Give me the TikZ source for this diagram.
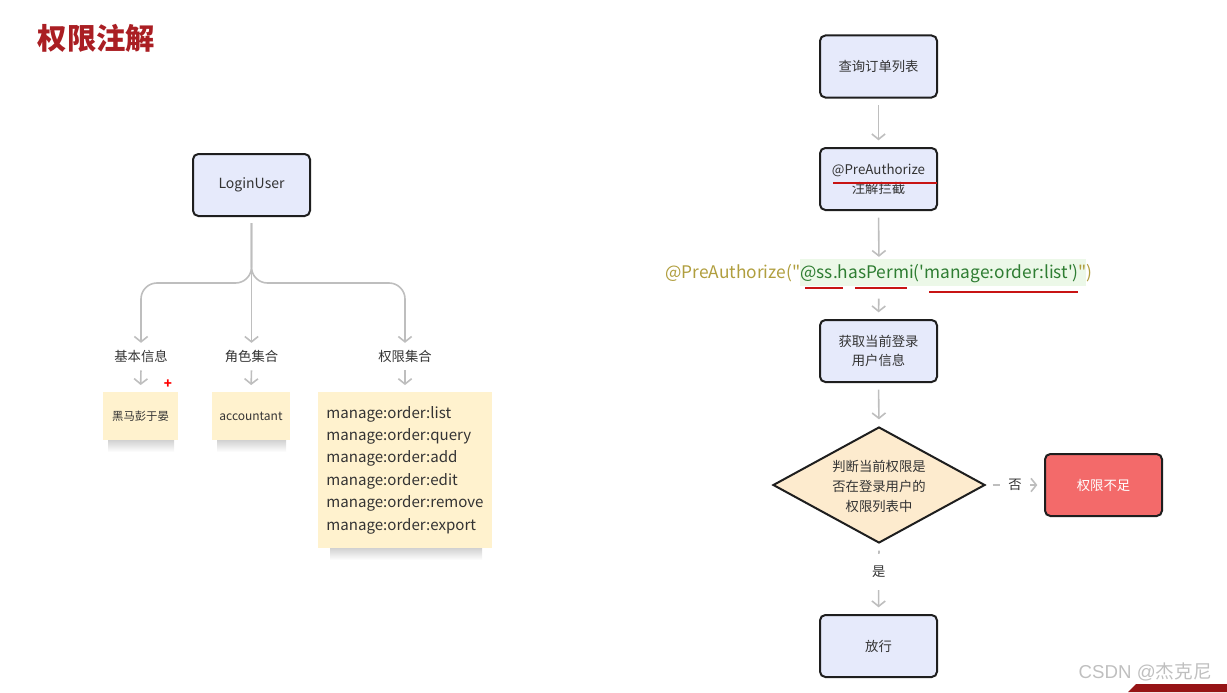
\documentclass[tikz,border=0pt]{standalone}
\usepackage{fontspec}
\setmainfont{Noto Sans CJK SC}
\newfontfamily\codefont{Noto Sans CJK SC}[Ligatures=TeXOff]
\newfontfamily\wmfont{Liberation Sans}
\usetikzlibrary{arrows.meta,shapes.geometric,calc}
\definecolor{boxblue}{RGB}{230,234,251}
\definecolor{boxborder}{RGB}{30,30,30}
\definecolor{noteyellow}{RGB}{255,242,206}
\definecolor{linegray}{RGB}{190,190,190}
\definecolor{titlered}{RGB}{170,30,35}
\definecolor{diafill}{RGB}{253,235,206}
\definecolor{redbox}{RGB}{243,106,106}
\definecolor{olive}{RGB}{176,158,62}
\definecolor{codegreen}{RGB}{46,125,50}
\definecolor{hlgreen}{RGB}{236,248,232}
\definecolor{txt}{RGB}{51,51,51}
\definecolor{ulred}{RGB}{200,20,20}
\definecolor{barred}{RGB}{150,20,22}
\begin{document}
\begin{tikzpicture}[x=0.75pt,y=-0.75pt,
  proc/.style={draw=boxborder, line width=1.5pt, rounded corners=4pt, fill=boxblue,
    minimum width=87.75pt, minimum height=46.5pt, inner sep=2pt, align=center,
    text=txt, font=\fontsize{10}{14}\selectfont},
  note/.style={fill=noteyellow, inner sep=0pt, text=txt},
  lab/.style={inner sep=5pt, text=txt, font=\fontsize{10}{12}\selectfont},
  conn/.style={draw=linegray, line width=1.2pt,
    -{Straight Barb[length=4pt,width=10pt]}},
  uline/.style={draw=ulred, line width=1.5pt},
  nshadow/.style={top color=black!18, bottom color=white, draw=none}
]
\useasboundingbox (0,0) rectangle (1227,692);

% title
\node[text=titlered, font=\bfseries\fontsize{22}{26}\selectfont, anchor=west] (title) at (33,38) {权限注解};

% ---------- left tree ----------
\node[proc, font=\fontsize{10.5}{14}\selectfont] (login) at (251.5,185) {LoginUser};
\coordinate (j) at (251.5,283);

\node[lab] (l1) at (141,356) {基本信息};
\node[lab] (l2) at (251.5,356) {角色集合};
\node[lab] (l3) at (405,356) {权限集合};

\draw[conn] (login.south) ++(0,6) -- (l2.north);
\draw[conn, rounded corners=12pt] ($(login.south)+(0,6)$) -- (j) -| (l1.north);
\draw[conn, rounded corners=12pt] ($(login.south)+(0,6)$) -- (j) -| (l3.north);

% shadows of notes
\fill[nshadow] (108,440) rectangle (174,452);
\fill[nshadow] (217,440) rectangle (286,452);
\fill[nshadow] (330,548) rectangle (482,560);

\node[note, minimum width=56.25pt, minimum height=36pt, font=\fontsize{8.5}{10}\selectfont] (n1) at (140.5,416) {黑马彭于晏};
\node[note, minimum width=58.5pt, minimum height=36pt, font=\fontsize{9}{10}\selectfont] (n2) at (251,416) {accountant};
\node[note, minimum width=130.5pt, minimum height=117pt, align=left, font=\fontsize{11.3}{16.8}\selectfont] (n3) at (405,470)
  {manage:order:list\\manage:order:query\\manage:order:add\\manage:order:edit\\manage:order:remove\\manage:order:export};
\node[text=red, font=\bfseries\fontsize{10}{10}\selectfont, inner sep=0pt] (plus) at (168,384) {+};

\draw[conn, shorten <=1pt, shorten >=5pt] (l1.south) -- (n1.north);
\draw[conn, shorten <=1pt, shorten >=5pt] (l2.south) -- (n2.north);
\draw[conn, shorten <=1pt, shorten >=5pt] (l3.south) -- (n3.north);

% ---------- right flow ----------
\node[proc] (q) at (878.5,66.5) {查询订单列表};
\node[proc] (p) at (878.5,179) {@PreAuthorize\\注解拦截};
\draw[uline] (833,183) -- (937,183);

% code line
\fill[hlgreen] (800,259) rectangle (1086,286);
\node[inner sep=0pt, font=\codefont\fontsize{13}{14}\selectfont, anchor=base] (pa) at (879,278)
  {\textcolor{olive}{@PreAuthorize("}\textcolor{codegreen}{@ss.hasPermi('manage:order:list')}\textcolor{olive}{")}};
\draw[uline] (805,288) -- (843,288);
\draw[uline] (855,288) -- (907,288);
\draw[uline] (929,292) -- (1078,292);

\node[proc] (g) at (878.5,351) {获取当前登录\\用户信息};
\node[diamond, draw=boxborder, line width=1.5pt, fill=diafill, minimum width=159pt, minimum height=87pt,
  inner sep=0pt] (d) at (879,485) {};
\node[align=center, text=txt, inner sep=0pt, font=\fontsize{10}{15}\selectfont] (dt) at (879,486)
  {判断当前权限是\\否在登录用户的\\权限列表中};
\node[proc, fill=redbox, text=white] (r) at (1103.5,485) {权限不足};
\node[proc] (ok) at (878.5,646) {放行};

\draw[conn, shorten <=5pt, shorten >=5pt] (q.south) -- (p.north);
\draw[conn, shorten <=5pt, shorten >=5pt] (p.south) -- (pa.north);
\draw[conn, shorten <=12pt, shorten >=5pt] (pa.south) -- (g.north);
\draw[conn, shorten <=5pt, shorten >=5pt] (g.south) -- (d.north);
\draw[conn, shorten <=5pt, shorten >=5pt] (d.east) -- node[fill=white, text=txt, inner xsep=6pt, font=\fontsize{10}{12}\selectfont] {否} (r.west);
\draw[conn, shorten <=5pt, shorten >=5pt] (d.south) -- node[fill=white, text=txt, inner ysep=9pt, font=\fontsize{10}{12}\selectfont, pos=0.4] {是} (ok.north);

% watermark
\node[text=black!25, font=\fontsize{14}{16}\selectfont, anchor=east, inner sep=0pt] (wm) at (1212,672) {\wmfont CSDN @\normalfont 杰克尼};
\fill[barred] (1128,692) -- (1136,684) -- (1227,684) -- (1227,692) -- cycle;
\end{tikzpicture}
\end{document}
